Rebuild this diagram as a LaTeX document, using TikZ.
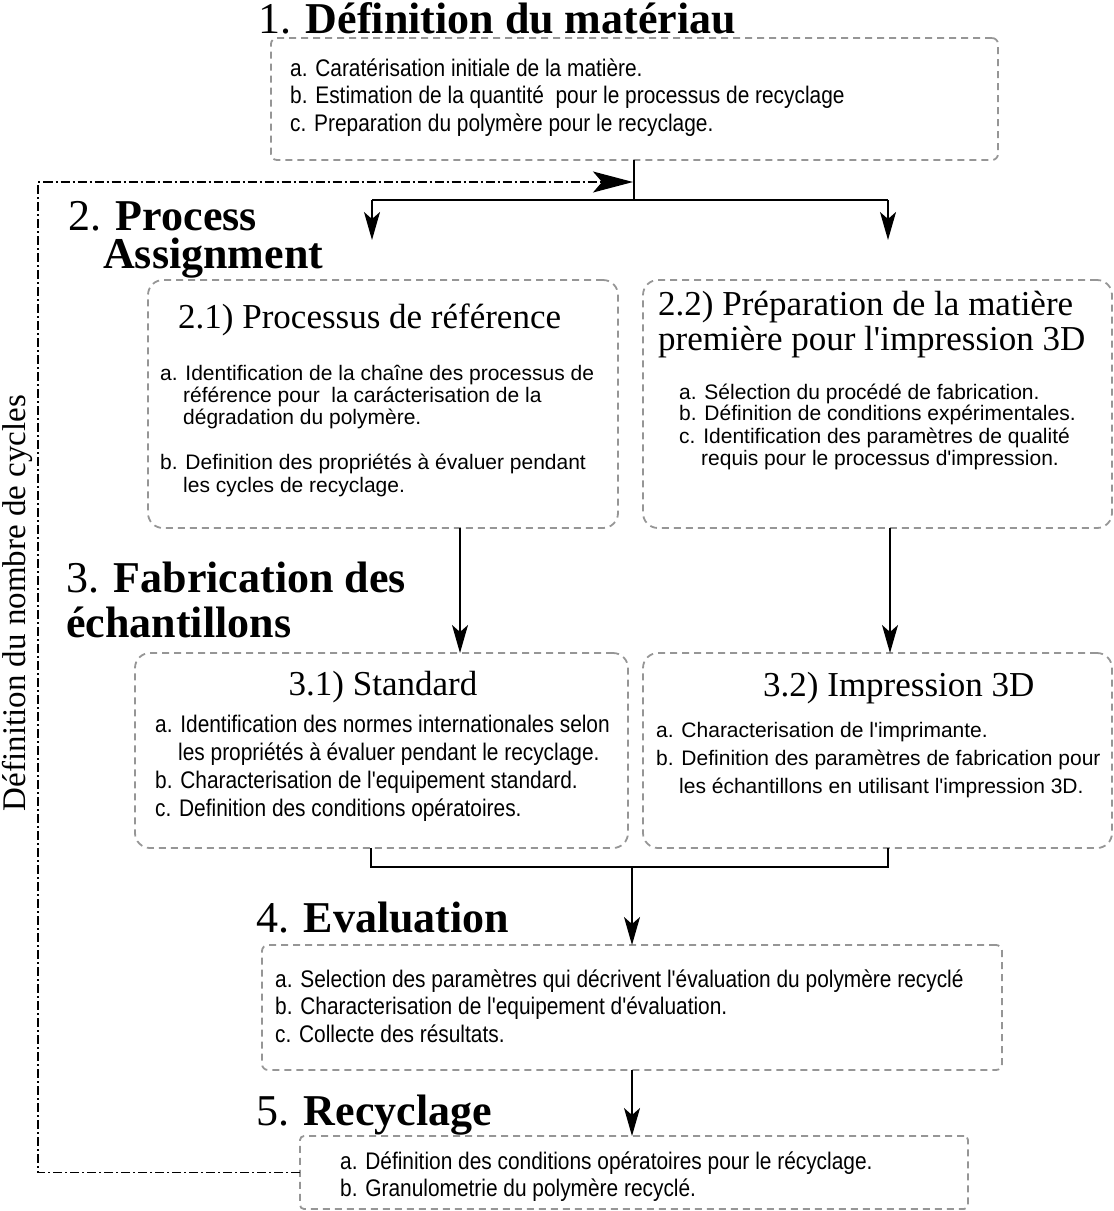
\documentclass[tikz,border=0pt]{standalone}
\usepackage{fontspec}
\setmainfont{Liberation Serif}[Ligatures=TeXOff]
\setsansfont{Liberation Sans}[Ligatures=TeXOff]
\newfontfamily\condsans{Liberation Sans}[FakeStretch=0.87,Ligatures=TeXOff]
\usetikzlibrary{arrows.meta}
\definecolor{boxgray}{RGB}{150,150,150}
\begin{document}
\begin{tikzpicture}[x=1pt,y=-1pt,
  boxs/.style={draw=boxgray, line width=1.8pt, dash pattern=on 7pt off 5pt, rounded corners=6pt, anchor=north west, inner sep=0pt, outer sep=0pt},
  boxl/.style={boxs, rounded corners=15pt},
  cbody/.style={font=\condsans\fontsize{24}{28}\selectfont, anchor=base west, inner sep=0pt},
  wbody/.style={font=\sffamily\fontsize{21}{22}\selectfont, anchor=base west, inner sep=0pt},
  subhead/.style={font=\rmfamily\fontsize{35}{40}\selectfont, anchor=base west, inner sep=0pt},
  head/.style={font=\rmfamily\fontsize{44}{48}\selectfont, anchor=base west, inner sep=0pt},
  conn/.style={line width=1.6pt},
  arr/.style={conn, -{Stealth[length=28pt,width=16pt,inset=7pt]}},
  fb/.style={line width=1.3pt, dash pattern=on 9pt off 3pt on 2pt off 3pt, -{Stealth[length=40pt,width=21pt,inset=9pt]}}
]
\useasboundingbox (0,0) rectangle (1114,1211);

% ---------- boxes
\node[boxs, minimum width=727pt, minimum height=122pt] (b1) at (271,38) {};
\node[boxl, minimum width=470pt, minimum height=248pt] (b21) at (148,280) {};
\node[boxl, minimum width=469pt, minimum height=248pt] (b22) at (643,280) {};
\node[boxl, minimum width=493pt, minimum height=195pt] (b31) at (135,653) {};
\node[boxl, minimum width=469pt, minimum height=195pt] (b32) at (643,653) {};
\node[boxs, minimum width=740pt, minimum height=125pt] (b4) at (262,945) {};
\node[boxs, minimum width=668pt, minimum height=73pt, rounded corners=4pt] (b5) at (300,1136) {};

% ---------- headings
\node[head] (h1) at (258,33) {1. \textbf{Définition du matériau}};
\node[head] (h2a) at (68,230) {2. \textbf{Process}};
\node[head] (h2b) at (103,268) {\textbf{Assignment}};
\node[head] (h3a) at (66,592) {3. \textbf{Fabrication des}};
\node[head] (h3b) at (66,637) {\textbf{échantillons}};
\node[head] (h4) at (256,932) {4. \textbf{Evaluation}};
\node[head] (h5) at (256,1125) {5. \textbf{Recyclage}};

% ---------- box 1
\node[cbody] (t1a) at (290,76) {a. Caratérisation initiale de la matière.};
\node[cbody] (t1b) at (290,103) {b. Estimation de la quantité\ \ pour le processus de recyclage};
\node[cbody] (t1c) at (290,131) {c. Preparation du polymère pour le recyclage.};

% ---------- box 2.1
\node[subhead] (s21) at (178,328) {2.1) Processus de référence};
\node[wbody] (t21a) at (160,380) {a. Identification de la chaîne des processus de};
\node[wbody] (t21b) at (183,402) {référence pour\ \ la carácterisation de la};
\node[wbody] (t21c) at (183,424) {dégradation du polymère.};
\node[wbody] (t21d) at (160,469) {b. Definition des propriétés à évaluer pendant};
\node[wbody] (t21e) at (183,492) {les cycles de recyclage.};

% ---------- box 2.2
\node[subhead] (s22a) at (658,315) {2.2) Préparation de la matière};
\node[subhead] (s22b) at (658,350) {première pour l'impression 3D};
\node[wbody] (t22a) at (679,399) {a. Sélection du procédé de fabrication.};
\node[wbody] (t22b) at (679,420) {b. Définition de conditions expérimentales.};
\node[wbody] (t22c) at (679,443) {c. Identification des paramètres de qualité};
\node[wbody] (t22d) at (701,465) {requis pour le processus d'impression.};

% ---------- box 3.1
\node[subhead, anchor=base] (s31) at (383,695) {3.1) Standard};
\node[cbody] (t31a) at (155,732) {a. Identification des normes internationales selon};
\node[cbody] (t31b) at (178,760) {les propriétés à évaluer pendant le recyclage.};
\node[cbody] (t31c) at (155,788) {b. Characterisation de l'equipement standard.};
\node[cbody] (t31d) at (155,816) {c. Definition des conditions opératoires.};

% ---------- box 3.2
\node[subhead] (s32) at (763,696) {3.2) Impression 3D};
\node[wbody] (t32a) at (656,737) {a. Characterisation de l'imprimante.};
\node[wbody] (t32b) at (656,765) {b. Definition des paramètres de fabrication pour};
\node[wbody] (t32c) at (679,793) {les échantillons en utilisant l'impression 3D.};

% ---------- box 4
\node[cbody] (t4a) at (275,987) {a. Selection des paramètres qui décrivent l'évaluation du polymère recyclé};
\node[cbody] (t4b) at (275,1014) {b. Characterisation de l'equipement d'évaluation.};
\node[cbody] (t4c) at (275,1042) {c. Collecte des résultats.};

% ---------- box 5
\node[cbody] (t5a) at (340,1169) {a. Définition des conditions opératoires pour le récyclage.};
\node[cbody] (t5b) at (340,1196) {b. Granulometrie du polymère recyclé.};

% ---------- side label
\node[rotate=90, anchor=base, inner sep=0pt, font=\rmfamily\fontsize{33}{36}\selectfont] (side) at (25,603) {Définition du nombre de cycles};

% ---------- connectors
\coordinate (j1) at (634,200);
\coordinate (l1) at (372,200);
\coordinate (r1) at (888,200);
\coordinate (l1e) at (372,240);
\coordinate (r1e) at (888,240);
\draw[conn] (b1.south -| j1) -- (j1);
\draw[conn] (l1) -- (r1);
\draw[arr] (l1) -- (l1e);
\draw[arr] (r1) -- (r1e);

\coordinate (x21) at (460,0);
\coordinate (x22) at (890,0);
\draw[arr] (b21.south -| x21) -- (b31.north -| x21);
\draw[arr] (b22.south -| x22) -- (b32.north -| x22);

\coordinate (l2) at (371,867);
\coordinate (r2) at (888,867);
\coordinate (j2) at (632,867);
\draw[conn] (b31.south -| l2) -- (l2) -- (r2) -- (b32.south -| r2);
\draw[arr] (j2) -- (b4.north -| j2);
\draw[arr] (b4.south -| j2) -- (b5.north -| j2);

% ---------- feedback loop
\coordinate (fbtop) at (38,182);
\coordinate (fbend) at (633,182);
\draw[fb] (b5.west) -- (b5.west -| fbtop) -- (fbtop) -- (fbend);
\end{tikzpicture}
\end{document}
